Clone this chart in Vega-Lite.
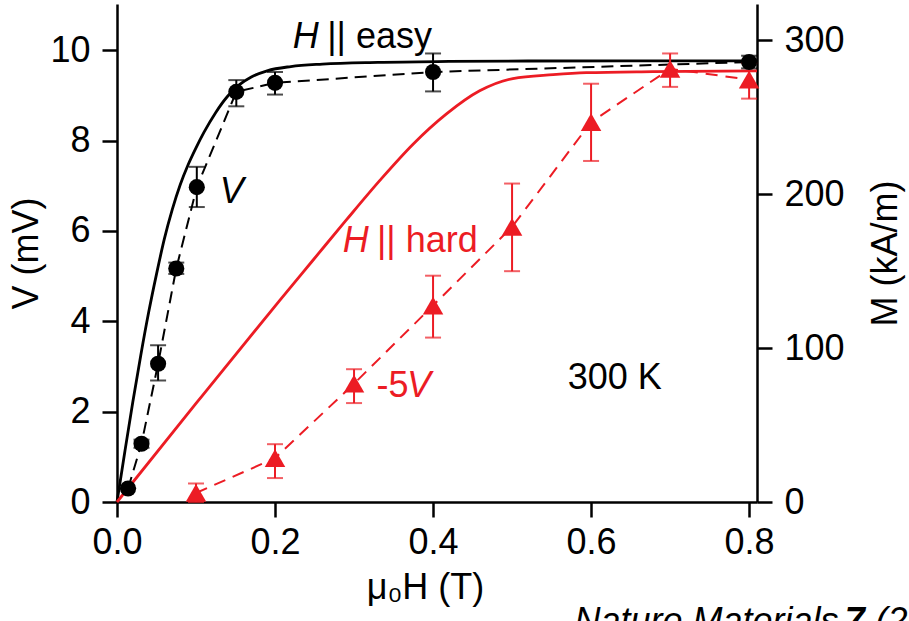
{
  "$schema": "https://vega.github.io/schema/vega-lite/v6.json",
  "width": 640,
  "height": 498,
  "autosize": "none",
  "padding": {"left": 117, "top": 4, "right": 152, "bottom": 119},
  "background": "white",
  "config": {
    "view": {"stroke": null},
    "axis": {
      "domainColor": "black", "domainWidth": 2.5, "tickColor": "black", "tickWidth": 2.5, "tickSize": 15,
      "labelFont": "Liberation Sans", "labelFontSize": 36, "labelColor": "black", "labelPadding": 8, "labelFlush": false,
      "titleFont": "Liberation Sans", "titleFontSize": 36, "titleFontWeight": "normal", "titleColor": "black",
      "grid": false
    },
    "axisLeft": {"labelPadding": 12},
    "axisRight": {"labelPadding": 12},
    "text": {"font": "Liberation Sans", "fontSize": 36, "align": "left", "baseline": "alphabetic"}
  },
  "datasets": {
    "M_easy": [
      {"x": 0, "M": 0}, {"x": 0.01, "M": 33}, {"x": 0.02, "M": 65}, {"x": 0.03, "M": 95},
      {"x": 0.04, "M": 123}, {"x": 0.05, "M": 148}, {"x": 0.06, "M": 171}, {"x": 0.07, "M": 190},
      {"x": 0.08, "M": 206}, {"x": 0.09, "M": 219}, {"x": 0.1, "M": 230}, {"x": 0.11, "M": 240},
      {"x": 0.125, "M": 253}, {"x": 0.14, "M": 263.5}, {"x": 0.155, "M": 271}, {"x": 0.17, "M": 276},
      {"x": 0.19, "M": 280}, {"x": 0.22, "M": 282.8}, {"x": 0.26, "M": 284.4}, {"x": 0.33, "M": 285.5},
      {"x": 0.42, "M": 286.1}, {"x": 0.52, "M": 286.4}, {"x": 0.65, "M": 286.5}, {"x": 0.81, "M": 286.5}
    ],
    "M_hard": [
      {"x": 0, "M": 0}, {"x": 0.1, "M": 64}, {"x": 0.206, "M": 131}, {"x": 0.248, "M": 157},
      {"x": 0.29, "M": 183}, {"x": 0.333, "M": 209}, {"x": 0.375, "M": 232.5}, {"x": 0.417, "M": 252},
      {"x": 0.459, "M": 267}, {"x": 0.501, "M": 275}, {"x": 0.552, "M": 277.5}, {"x": 0.594, "M": 278.8},
      {"x": 0.678, "M": 279.5}, {"x": 0.81, "M": 280}
    ],
    "V_easy": [
      {"x": 0.014, "V": 0.3, "lo": 0.3, "hi": 0.3},
      {"x": 0.031, "V": 1.29, "lo": 1.2, "hi": 1.38},
      {"x": 0.052, "V": 3.06, "lo": 2.69, "hi": 3.47},
      {"x": 0.075, "V": 5.17, "lo": 5.05, "hi": 5.3},
      {"x": 0.101, "V": 6.97, "lo": 6.53, "hi": 7.42},
      {"x": 0.151, "V": 9.08, "lo": 8.76, "hi": 9.34},
      {"x": 0.2, "V": 9.28, "lo": 9.02, "hi": 9.52},
      {"x": 0.4, "V": 9.52, "lo": 9.09, "hi": 9.93},
      {"x": 0.8, "V": 9.74, "lo": 9.6, "hi": 9.88}
    ],
    "V_hard": [
      {"x": 0.1, "V": 0.2, "lo": 0, "hi": 0.41},
      {"x": 0.2, "V": 0.97, "lo": 0.53, "hi": 1.28},
      {"x": 0.3, "V": 2.62, "lo": 2.19, "hi": 2.94},
      {"x": 0.4, "V": 4.35, "lo": 3.64, "hi": 5.01},
      {"x": 0.5, "V": 6.09, "lo": 5.11, "hi": 7.05},
      {"x": 0.6, "V": 8.41, "lo": 7.55, "hi": 9.26},
      {"x": 0.7, "V": 9.59, "lo": 9.19, "hi": 9.93},
      {"x": 0.8, "V": 9.35, "lo": 8.93, "hi": 9.72}
    ],
    "one": [{}]
  },
  "layer": [
    {
      "layer": [
        {
          "data": {"name": "M_easy"},
          "mark": {"type": "line", "color": "black", "strokeWidth": 2.8, "interpolate": "monotone"},
          "encoding": {
            "x": {"field": "x", "type": "quantitative", "scale": {"domain": [0, 0.81], "nice": false}, "axis": {"values": [0, 0.2, 0.4, 0.6, 0.8], "format": ".1f", "title": "μ₀H (T)", "titlePadding": 10, "titleX": 308}},
            "y": {"field": "M", "type": "quantitative", "scale": {"domain": [0, 323.4], "nice": false}, "axis": {"orient": "right", "values": [0, 100, 200, 300], "title": "M (kA/m)", "titleAngle": -90, "titleBaseline": "top", "titlePadding": 24}}
          }
        },
        {
          "data": {"name": "M_hard"},
          "mark": {"type": "line", "color": "#ec1c24", "strokeWidth": 2.8, "interpolate": "monotone"},
          "encoding": {
            "x": {"field": "x", "type": "quantitative", "scale": {"domain": [0, 0.81], "nice": false}, "axis": {"values": [0, 0.2, 0.4, 0.6, 0.8], "format": ".1f", "title": "μ₀H (T)", "titlePadding": 10, "titleX": 308}},
            "y": {"field": "M", "type": "quantitative", "scale": {"domain": [0, 323.4], "nice": false}, "axis": {"orient": "right", "values": [0, 100, 200, 300], "title": "M (kA/m)", "titleAngle": -90, "titleBaseline": "top", "titlePadding": 24}}
          }
        }
      ]
    },
    {
      "layer": [
        {
          "data": {"name": "V_easy"},
          "mark": {"type": "line", "color": "black", "strokeWidth": 2, "strokeDash": [12, 7]},
          "encoding": {
            "x": {"field": "x", "type": "quantitative", "scale": {"domain": [0, 0.81], "nice": false}, "axis": {"values": [0, 0.2, 0.4, 0.6, 0.8], "format": ".1f", "title": "μ₀H (T)", "titlePadding": 10, "titleX": 308}},
            "y": {"field": "V", "type": "quantitative", "scale": {"domain": [0, 11.025], "nice": false}, "axis": {"orient": "left", "values": [0, 2, 4, 6, 8, 10], "title": "V (mV)", "titlePadding": 4}}
          }
        },
        {
          "data": {"name": "V_hard"},
          "mark": {"type": "line", "color": "#ec1c24", "strokeWidth": 2, "strokeDash": [12, 8]},
          "encoding": {
            "x": {"field": "x", "type": "quantitative", "scale": {"domain": [0, 0.81], "nice": false}, "axis": {"values": [0, 0.2, 0.4, 0.6, 0.8], "format": ".1f", "title": "μ₀H (T)", "titlePadding": 10, "titleX": 308}},
            "y": {"field": "V", "type": "quantitative", "scale": {"domain": [0, 11.025], "nice": false}, "axis": {"orient": "left", "values": [0, 2, 4, 6, 8, 10], "title": "V (mV)", "titlePadding": 4}}
          }
        },
        {
          "data": {"name": "V_easy"},
          "mark": {"type": "errorbar", "color": "black", "thickness": 2, "ticks": {"size": 16, "thickness": 2}},
          "encoding": {
            "x": {"field": "x", "type": "quantitative", "scale": {"domain": [0, 0.81], "nice": false}, "axis": {"values": [0, 0.2, 0.4, 0.6, 0.8], "format": ".1f", "title": "μ₀H (T)", "titlePadding": 10, "titleX": 308}},
            "y": {"field": "lo", "type": "quantitative", "scale": {"domain": [0, 11.025], "nice": false}, "axis": {"orient": "left", "values": [0, 2, 4, 6, 8, 10], "title": "V (mV)", "titlePadding": 4}},
            "y2": {"field": "hi"}
          }
        },
        {
          "data": {"name": "V_hard"},
          "mark": {"type": "errorbar", "color": "#ec1c24", "thickness": 2, "ticks": {"size": 16, "thickness": 2}},
          "encoding": {
            "x": {"field": "x", "type": "quantitative", "scale": {"domain": [0, 0.81], "nice": false}, "axis": {"values": [0, 0.2, 0.4, 0.6, 0.8], "format": ".1f", "title": "μ₀H (T)", "titlePadding": 10, "titleX": 308}},
            "y": {"field": "lo", "type": "quantitative", "scale": {"domain": [0, 11.025], "nice": false}, "axis": {"orient": "left", "values": [0, 2, 4, 6, 8, 10], "title": "V (mV)", "titlePadding": 4}},
            "y2": {"field": "hi"}
          }
        },
        {
          "data": {"name": "V_easy"},
          "mark": {"type": "point", "filled": true, "shape": "circle", "size": 260, "color": "black", "opacity": 1},
          "encoding": {
            "x": {"field": "x", "type": "quantitative", "scale": {"domain": [0, 0.81], "nice": false}, "axis": {"values": [0, 0.2, 0.4, 0.6, 0.8], "format": ".1f", "title": "μ₀H (T)", "titlePadding": 10, "titleX": 308}},
            "y": {"field": "V", "type": "quantitative", "scale": {"domain": [0, 11.025], "nice": false}, "axis": {"orient": "left", "values": [0, 2, 4, 6, 8, 10], "title": "V (mV)", "titlePadding": 4}}
          }
        },
        {
          "data": {"name": "V_hard"},
          "mark": {"type": "point", "filled": true, "shape": "triangle-up", "size": 420, "color": "#ec1c24", "opacity": 1},
          "encoding": {
            "x": {"field": "x", "type": "quantitative", "scale": {"domain": [0, 0.81], "nice": false}, "axis": {"values": [0, 0.2, 0.4, 0.6, 0.8], "format": ".1f", "title": "μ₀H (T)", "titlePadding": 10, "titleX": 308}},
            "y": {"field": "V", "type": "quantitative", "scale": {"domain": [0, 11.025], "nice": false}, "axis": {"orient": "left", "values": [0, 2, 4, 6, 8, 10], "title": "V (mV)", "titlePadding": 4}}
          }
        },
        {"data": {"name": "one"}, "mark": {"type": "text", "text": "H", "fontStyle": "italic", "color": "black"},
         "encoding": {"x": {"datum": 0.2224, "type": "quantitative", "scale": {"domain": [0, 0.81], "nice": false}}, "y": {"datum": 10.04, "type": "quantitative", "scale": {"domain": [0, 11.025], "nice": false}}}},
        {"data": {"name": "one"}, "mark": {"type": "text", "text": "|| easy", "color": "black"},
         "encoding": {"x": {"datum": 0.266, "type": "quantitative", "scale": {"domain": [0, 0.81], "nice": false}}, "y": {"datum": 10.04, "type": "quantitative", "scale": {"domain": [0, 11.025], "nice": false}}}},
        {"data": {"name": "one"}, "mark": {"type": "text", "text": "V", "fontStyle": "italic", "color": "black"},
         "encoding": {"x": {"datum": 0.13, "type": "quantitative", "scale": {"domain": [0, 0.81], "nice": false}}, "y": {"datum": 6.63, "type": "quantitative", "scale": {"domain": [0, 11.025], "nice": false}}}},
        {"data": {"name": "one"}, "mark": {"type": "text", "text": "H", "fontStyle": "italic", "color": "#ec1c24"},
         "encoding": {"x": {"datum": 0.2857, "type": "quantitative", "scale": {"domain": [0, 0.81], "nice": false}}, "y": {"datum": 5.53, "type": "quantitative", "scale": {"domain": [0, 11.025], "nice": false}}}},
        {"data": {"name": "one"}, "mark": {"type": "text", "text": "|| hard", "color": "#ec1c24"},
         "encoding": {"x": {"datum": 0.329, "type": "quantitative", "scale": {"domain": [0, 0.81], "nice": false}}, "y": {"datum": 5.53, "type": "quantitative", "scale": {"domain": [0, 11.025], "nice": false}}}},
        {"data": {"name": "one"}, "mark": {"type": "text", "text": "-5", "color": "#ec1c24"},
         "encoding": {"x": {"datum": 0.3285, "type": "quantitative", "scale": {"domain": [0, 0.81], "nice": false}}, "y": {"datum": 2.32, "type": "quantitative", "scale": {"domain": [0, 11.025], "nice": false}}}},
        {"data": {"name": "one"}, "mark": {"type": "text", "text": "V", "fontStyle": "italic", "color": "#ec1c24"},
         "encoding": {"x": {"datum": 0.367, "type": "quantitative", "scale": {"domain": [0, 0.81], "nice": false}}, "y": {"datum": 2.32, "type": "quantitative", "scale": {"domain": [0, 11.025], "nice": false}}}},
        {"data": {"name": "one"}, "mark": {"type": "text", "text": "300 K", "color": "black"},
         "encoding": {"x": {"datum": 0.5705, "type": "quantitative", "scale": {"domain": [0, 0.81], "nice": false}}, "y": {"datum": 2.51, "type": "quantitative", "scale": {"domain": [0, 11.025], "nice": false}}}},
        {"data": {"name": "one"}, "mark": {"type": "text", "text": "Nature Materials", "fontStyle": "italic", "color": "black"},
         "encoding": {"x": {"datum": 0.579, "type": "quantitative", "scale": {"domain": [0, 0.81], "nice": false}}, "y": {"datum": -2.9, "type": "quantitative", "scale": {"domain": [0, 11.025], "nice": false}}}},
        {"data": {"name": "one"}, "mark": {"type": "text", "text": "7", "fontStyle": "italic", "fontWeight": "bold", "color": "black"},
         "encoding": {"x": {"datum": 0.921, "type": "quantitative", "scale": {"domain": [0, 0.81], "nice": false}}, "y": {"datum": -2.9, "type": "quantitative", "scale": {"domain": [0, 11.025], "nice": false}}}},
        {"data": {"name": "one"}, "mark": {"type": "text", "text": "(2008)", "fontStyle": "italic", "color": "black"},
         "encoding": {"x": {"datum": 0.96, "type": "quantitative", "scale": {"domain": [0, 0.81], "nice": false}}, "y": {"datum": -2.9, "type": "quantitative", "scale": {"domain": [0, 11.025], "nice": false}}}}
      ]
    }
  ],
  "resolve": {"scale": {"y": "independent"}}
}
